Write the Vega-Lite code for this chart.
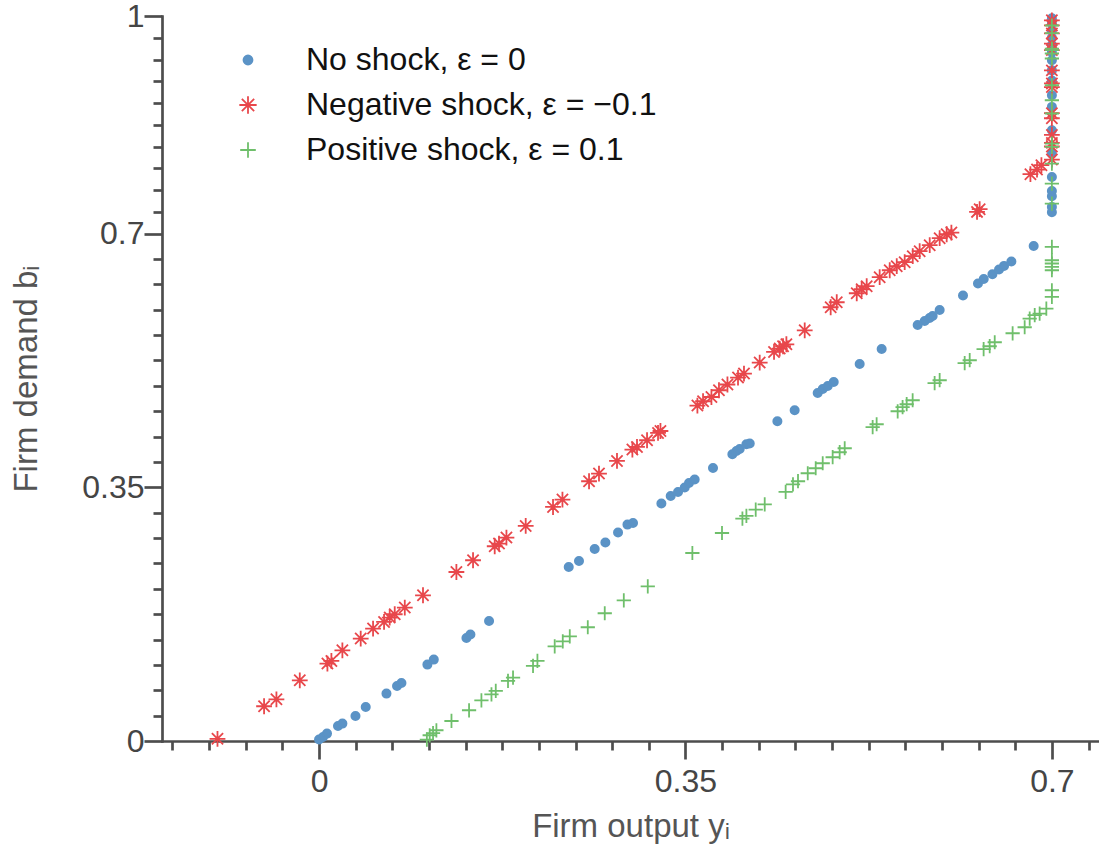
{
  "$schema": "https://vega.github.io/schema/vega-lite/v6.json",
  "width": 937,
  "height": 725,
  "autosize": {"type": "none"},
  "padding": {"left": 162, "top": 16, "right": 0, "bottom": 110},
  "background": "white",
  "config": {
    "view": {"stroke": null},
    "font": "Liberation Sans",
    "axis": {
      "domainColor": "#4d4d4d",
      "domainWidth": 2.7,
      "domainCap": "square",
      "tickColor": "#4d4d4d",
      "tickWidth": 2.7,
      "labelColor": "#454545",
      "labelFont": "Liberation Sans",
      "labelFontSize": 32,
      "titleFont": "Liberation Sans",
      "titleFontSize": 33,
      "titleFontWeight": "normal",
      "titleColor": "#555555",
      "grid": false,
      "labelOverlap": false,
      "labelBound": false
    }
  },
  "data": {"values": [
    {"s": "No shock, ε = 0", "x": 0.000, "y": 0.002},
    {"s": "No shock, ε = 0", "x": 0.0038, "y": 0.0055},
    {"s": "No shock, ε = 0", "x": 0.0076, "y": 0.0102},
    {"s": "No shock, ε = 0", "x": 0.0181, "y": 0.0207},
    {"s": "No shock, ε = 0", "x": 0.0223, "y": 0.024},
    {"s": "No shock, ε = 0", "x": 0.0348, "y": 0.0345},
    {"s": "No shock, ε = 0", "x": 0.0446, "y": 0.0469},
    {"s": "No shock, ε = 0", "x": 0.0644, "y": 0.0654},
    {"s": "No shock, ε = 0", "x": 0.0745, "y": 0.0759},
    {"s": "No shock, ε = 0", "x": 0.0787, "y": 0.080},
    {"s": "No shock, ε = 0", "x": 0.1035, "y": 0.1054},
    {"s": "No shock, ε = 0", "x": 0.1096, "y": 0.1123},
    {"s": "No shock, ε = 0", "x": 0.1408, "y": 0.1421},
    {"s": "No shock, ε = 0", "x": 0.1446, "y": 0.1468},
    {"s": "No shock, ε = 0", "x": 0.1624, "y": 0.1655},
    {"s": "No shock, ε = 0", "x": 0.2385, "y": 0.240},
    {"s": "No shock, ε = 0", "x": 0.2483, "y": 0.2483},
    {"s": "No shock, ε = 0", "x": 0.2633, "y": 0.2649},
    {"s": "No shock, ε = 0", "x": 0.2735, "y": 0.2737},
    {"s": "No shock, ε = 0", "x": 0.2856, "y": 0.2875},
    {"s": "No shock, ε = 0", "x": 0.2946, "y": 0.2985},
    {"s": "No shock, ε = 0", "x": 0.2999, "y": 0.3007},
    {"s": "No shock, ε = 0", "x": 0.3270, "y": 0.3275},
    {"s": "No shock, ε = 0", "x": 0.3359, "y": 0.338},
    {"s": "No shock, ε = 0", "x": 0.3429, "y": 0.3435},
    {"s": "No shock, ε = 0", "x": 0.3493, "y": 0.3496},
    {"s": "No shock, ε = 0", "x": 0.3534, "y": 0.3559},
    {"s": "No shock, ε = 0", "x": 0.3588, "y": 0.3606},
    {"s": "No shock, ε = 0", "x": 0.3763, "y": 0.3766},
    {"s": "No shock, ε = 0", "x": 0.3948, "y": 0.3955},
    {"s": "No shock, ε = 0", "x": 0.3987, "y": 0.400},
    {"s": "No shock, ε = 0", "x": 0.4018, "y": 0.4028},
    {"s": "No shock, ε = 0", "x": 0.4082, "y": 0.4093},
    {"s": "No shock, ε = 0", "x": 0.4114, "y": 0.4103},
    {"s": "No shock, ε = 0", "x": 0.4378, "y": 0.441},
    {"s": "No shock, ε = 0", "x": 0.4543, "y": 0.4562},
    {"s": "No shock, ε = 0", "x": 0.4763, "y": 0.4800},
    {"s": "No shock, ε = 0", "x": 0.4811, "y": 0.4855},
    {"s": "No shock, ε = 0", "x": 0.4859, "y": 0.4897},
    {"s": "No shock, ε = 0", "x": 0.4916, "y": 0.4952},
    {"s": "No shock, ε = 0", "x": 0.5164, "y": 0.5200},
    {"s": "No shock, ε = 0", "x": 0.5374, "y": 0.5407},
    {"s": "No shock, ε = 0", "x": 0.5718, "y": 0.5738},
    {"s": "No shock, ε = 0", "x": 0.5785, "y": 0.5793},
    {"s": "No shock, ε = 0", "x": 0.5832, "y": 0.5835},
    {"s": "No shock, ε = 0", "x": 0.5861, "y": 0.5862},
    {"s": "No shock, ε = 0", "x": 0.5928, "y": 0.5945},
    {"s": "No shock, ε = 0", "x": 0.6151, "y": 0.6144},
    {"s": "No shock, ε = 0", "x": 0.6294, "y": 0.631},
    {"s": "No shock, ε = 0", "x": 0.6349, "y": 0.6373},
    {"s": "No shock, ε = 0", "x": 0.6432, "y": 0.6438},
    {"s": "No shock, ε = 0", "x": 0.6495, "y": 0.6503},
    {"s": "No shock, ε = 0", "x": 0.6543, "y": 0.6553},
    {"s": "No shock, ε = 0", "x": 0.6613, "y": 0.6613},
    {"s": "No shock, ε = 0", "x": 0.6826, "y": 0.6828},
    {"s": "No shock, ε = 0", "x": 0.7, "y": 0.7293},
    {"s": "No shock, ε = 0", "x": 0.7, "y": 0.7367},
    {"s": "No shock, ε = 0", "x": 0.7, "y": 0.7514},
    {"s": "No shock, ε = 0", "x": 0.7, "y": 0.7587},
    {"s": "No shock, ε = 0", "x": 0.7, "y": 0.778},
    {"s": "No shock, ε = 0", "x": 0.7, "y": 0.81},
    {"s": "No shock, ε = 0", "x": 0.7, "y": 0.8425},
    {"s": "No shock, ε = 0", "x": 0.7, "y": 0.8746},
    {"s": "No shock, ε = 0", "x": 0.7, "y": 0.8907},
    {"s": "No shock, ε = 0", "x": 0.7, "y": 0.911},
    {"s": "No shock, ε = 0", "x": 0.7, "y": 0.925},
    {"s": "No shock, ε = 0", "x": 0.7, "y": 0.939},
    {"s": "No shock, ε = 0", "x": 0.7, "y": 0.95},
    {"s": "No shock, ε = 0", "x": 0.7, "y": 0.96},
    {"s": "No shock, ε = 0", "x": 0.7, "y": 0.97},
    {"s": "No shock, ε = 0", "x": 0.7, "y": 0.98},
    {"s": "No shock, ε = 0", "x": 0.7, "y": 0.99},
    {"s": "No shock, ε = 0", "x": 0.7, "y": 0.997},

    {"s": "Negative shock, ε = −0.1", "x": -0.097, "y": 0.003},
    {"s": "Negative shock, ε = −0.1", "x": -0.0525, "y": 0.0479},
    {"s": "Negative shock, ε = −0.1", "x": -0.0407, "y": 0.0575},
    {"s": "Negative shock, ε = −0.1", "x": -0.0184, "y": 0.0837},
    {"s": "Negative shock, ε = −0.1", "x": 0.0080, "y": 0.1068},
    {"s": "Negative shock, ε = −0.1", "x": 0.0118, "y": 0.1104},
    {"s": "Negative shock, ε = −0.1", "x": 0.0223, "y": 0.1251},
    {"s": "Negative shock, ε = −0.1", "x": 0.0398, "y": 0.1413},
    {"s": "Negative shock, ε = −0.1", "x": 0.0516, "y": 0.1551},
    {"s": "Negative shock, ε = −0.1", "x": 0.0621, "y": 0.1642},
    {"s": "Negative shock, ε = −0.1", "x": 0.0675, "y": 0.1702},
    {"s": "Negative shock, ε = −0.1", "x": 0.0723, "y": 0.1748},
    {"s": "Negative shock, ε = −0.1", "x": 0.0819, "y": 0.184},
    {"s": "Negative shock, ε = −0.1", "x": 0.0993, "y": 0.201},
    {"s": "Negative shock, ε = −0.1", "x": 0.1312, "y": 0.2331},
    {"s": "Negative shock, ε = −0.1", "x": 0.1471, "y": 0.2493},
    {"s": "Negative shock, ε = −0.1", "x": 0.1678, "y": 0.2686},
    {"s": "Negative shock, ε = −0.1", "x": 0.1719, "y": 0.2723},
    {"s": "Negative shock, ε = −0.1", "x": 0.179, "y": 0.2806},
    {"s": "Negative shock, ε = −0.1", "x": 0.1974, "y": 0.2966},
    {"s": "Negative shock, ε = −0.1", "x": 0.2235, "y": 0.3228},
    {"s": "Negative shock, ε = −0.1", "x": 0.2325, "y": 0.333},
    {"s": "Negative shock, ε = −0.1", "x": 0.2579, "y": 0.3583},
    {"s": "Negative shock, ε = −0.1", "x": 0.2674, "y": 0.3689},
    {"s": "Negative shock, ε = −0.1", "x": 0.2846, "y": 0.3863},
    {"s": "Negative shock, ε = −0.1", "x": 0.2993, "y": 0.402},
    {"s": "Negative shock, ε = −0.1", "x": 0.3037, "y": 0.4056},
    {"s": "Negative shock, ε = −0.1", "x": 0.3133, "y": 0.4148},
    {"s": "Negative shock, ε = −0.1", "x": 0.3238, "y": 0.4249},
    {"s": "Negative shock, ε = −0.1", "x": 0.3261, "y": 0.4276},
    {"s": "Negative shock, ε = −0.1", "x": 0.3614, "y": 0.4627},
    {"s": "Negative shock, ε = −0.1", "x": 0.3668, "y": 0.4686},
    {"s": "Negative shock, ε = −0.1", "x": 0.3748, "y": 0.4745},
    {"s": "Negative shock, ε = −0.1", "x": 0.3820, "y": 0.4838},
    {"s": "Negative shock, ε = −0.1", "x": 0.3901, "y": 0.4917},
    {"s": "Negative shock, ε = −0.1", "x": 0.4002, "y": 0.5013},
    {"s": "Negative shock, ε = −0.1", "x": 0.4059, "y": 0.5068},
    {"s": "Negative shock, ε = −0.1", "x": 0.4209, "y": 0.522},
    {"s": "Negative shock, ε = −0.1", "x": 0.4346, "y": 0.5366},
    {"s": "Negative shock, ε = −0.1", "x": 0.440, "y": 0.5413},
    {"s": "Negative shock, ε = −0.1", "x": 0.4432, "y": 0.5445},
    {"s": "Negative shock, ε = −0.1", "x": 0.4464, "y": 0.5472},
    {"s": "Negative shock, ε = −0.1", "x": 0.4639, "y": 0.5665},
    {"s": "Negative shock, ε = −0.1", "x": 0.4887, "y": 0.5983},
    {"s": "Negative shock, ε = −0.1", "x": 0.4945, "y": 0.6052},
    {"s": "Negative shock, ε = −0.1", "x": 0.5136, "y": 0.6176},
    {"s": "Negative shock, ε = −0.1", "x": 0.5183, "y": 0.6231},
    {"s": "Negative shock, ε = −0.1", "x": 0.5231, "y": 0.6273},
    {"s": "Negative shock, ε = −0.1", "x": 0.5355, "y": 0.6397},
    {"s": "Negative shock, ε = −0.1", "x": 0.5451, "y": 0.6493},
    {"s": "Negative shock, ε = −0.1", "x": 0.5518, "y": 0.6549},
    {"s": "Negative shock, ε = −0.1", "x": 0.5594, "y": 0.6604},
    {"s": "Negative shock, ε = −0.1", "x": 0.5671, "y": 0.6687},
    {"s": "Negative shock, ε = −0.1", "x": 0.5737, "y": 0.6756},
    {"s": "Negative shock, ε = −0.1", "x": 0.5833, "y": 0.6839},
    {"s": "Negative shock, ε = −0.1", "x": 0.5928, "y": 0.6935},
    {"s": "Negative shock, ε = −0.1", "x": 0.5995, "y": 0.699},
    {"s": "Negative shock, ε = −0.1", "x": 0.604, "y": 0.7013},
    {"s": "Negative shock, ε = −0.1", "x": 0.6285, "y": 0.7298},
    {"s": "Negative shock, ε = −0.1", "x": 0.631, "y": 0.7335},
    {"s": "Negative shock, ε = −0.1", "x": 0.6795, "y": 0.7818},
    {"s": "Negative shock, ε = −0.1", "x": 0.6858, "y": 0.7882},
    {"s": "Negative shock, ε = −0.1", "x": 0.69, "y": 0.7942},
    {"s": "Negative shock, ε = −0.1", "x": 0.7, "y": 0.802},
    {"s": "Negative shock, ε = −0.1", "x": 0.7, "y": 0.820},
    {"s": "Negative shock, ε = −0.1", "x": 0.7, "y": 0.825},
    {"s": "Negative shock, ε = −0.1", "x": 0.7, "y": 0.836},
    {"s": "Negative shock, ε = −0.1", "x": 0.7, "y": 0.859},
    {"s": "Negative shock, ε = −0.1", "x": 0.7, "y": 0.866},
    {"s": "Negative shock, ε = −0.1", "x": 0.7, "y": 0.902},
    {"s": "Negative shock, ε = −0.1", "x": 0.7, "y": 0.907},
    {"s": "Negative shock, ε = −0.1", "x": 0.7, "y": 0.925},
    {"s": "Negative shock, ε = −0.1", "x": 0.7, "y": 0.953},
    {"s": "Negative shock, ε = −0.1", "x": 0.7, "y": 0.962},
    {"s": "Negative shock, ε = −0.1", "x": 0.7, "y": 0.976},
    {"s": "Negative shock, ε = −0.1", "x": 0.7, "y": 0.987},
    {"s": "Negative shock, ε = −0.1", "x": 0.7, "y": 0.994},

    {"s": "Positive shock, ε = 0.1", "x": 0.103, "y": 0.002},
    {"s": "Positive shock, ε = 0.1", "x": 0.1057, "y": 0.0079},
    {"s": "Positive shock, ε = 0.1", "x": 0.1089, "y": 0.011},
    {"s": "Positive shock, ε = 0.1", "x": 0.1121, "y": 0.0148},
    {"s": "Positive shock, ε = 0.1", "x": 0.1265, "y": 0.0276},
    {"s": "Positive shock, ε = 0.1", "x": 0.1433, "y": 0.0424},
    {"s": "Positive shock, ε = 0.1", "x": 0.1551, "y": 0.0561},
    {"s": "Positive shock, ε = 0.1", "x": 0.1647, "y": 0.0644},
    {"s": "Positive shock, ε = 0.1", "x": 0.1688, "y": 0.069},
    {"s": "Positive shock, ε = 0.1", "x": 0.1805, "y": 0.0828},
    {"s": "Positive shock, ε = 0.1", "x": 0.1853, "y": 0.0875},
    {"s": "Positive shock, ε = 0.1", "x": 0.2044, "y": 0.1035},
    {"s": "Positive shock, ε = 0.1", "x": 0.2086, "y": 0.1104},
    {"s": "Positive shock, ε = 0.1", "x": 0.2251, "y": 0.1306},
    {"s": "Positive shock, ε = 0.1", "x": 0.2328, "y": 0.1375},
    {"s": "Positive shock, ε = 0.1", "x": 0.2395, "y": 0.1444},
    {"s": "Positive shock, ε = 0.1", "x": 0.2567, "y": 0.1569},
    {"s": "Positive shock, ε = 0.1", "x": 0.2729, "y": 0.1762},
    {"s": "Positive shock, ε = 0.1", "x": 0.2911, "y": 0.1941},
    {"s": "Positive shock, ε = 0.1", "x": 0.3140, "y": 0.2134},
    {"s": "Positive shock, ε = 0.1", "x": 0.3566, "y": 0.2593},
    {"s": "Positive shock, ε = 0.1", "x": 0.3849, "y": 0.2869},
    {"s": "Positive shock, ε = 0.1", "x": 0.4044, "y": 0.3068},
    {"s": "Positive shock, ε = 0.1", "x": 0.4082, "y": 0.3104},
    {"s": "Positive shock, ε = 0.1", "x": 0.4171, "y": 0.3192},
    {"s": "Positive shock, ε = 0.1", "x": 0.4257, "y": 0.3265},
    {"s": "Positive shock, ε = 0.1", "x": 0.4457, "y": 0.3435},
    {"s": "Positive shock, ε = 0.1", "x": 0.4527, "y": 0.3541},
    {"s": "Positive shock, ε = 0.1", "x": 0.4575, "y": 0.3583},
    {"s": "Positive shock, ε = 0.1", "x": 0.4668, "y": 0.3693},
    {"s": "Positive shock, ε = 0.1", "x": 0.4744, "y": 0.3762},
    {"s": "Positive shock, ε = 0.1", "x": 0.4811, "y": 0.3831},
    {"s": "Positive shock, ε = 0.1", "x": 0.4906, "y": 0.3914},
    {"s": "Positive shock, ε = 0.1", "x": 0.4973, "y": 0.3983},
    {"s": "Positive shock, ε = 0.1", "x": 0.5021, "y": 0.4038},
    {"s": "Positive shock, ε = 0.1", "x": 0.5288, "y": 0.4328},
    {"s": "Positive shock, ε = 0.1", "x": 0.5326, "y": 0.4369},
    {"s": "Positive shock, ε = 0.1", "x": 0.5527, "y": 0.4548},
    {"s": "Positive shock, ε = 0.1", "x": 0.5574, "y": 0.4604},
    {"s": "Positive shock, ε = 0.1", "x": 0.5613, "y": 0.4645},
    {"s": "Positive shock, ε = 0.1", "x": 0.567, "y": 0.4700},
    {"s": "Positive shock, ε = 0.1", "x": 0.588, "y": 0.4935},
    {"s": "Positive shock, ε = 0.1", "x": 0.5928, "y": 0.4976},
    {"s": "Positive shock, ε = 0.1", "x": 0.6167, "y": 0.5211},
    {"s": "Positive shock, ε = 0.1", "x": 0.6215, "y": 0.5252},
    {"s": "Positive shock, ε = 0.1", "x": 0.6348, "y": 0.5404},
    {"s": "Positive shock, ε = 0.1", "x": 0.6406, "y": 0.5445},
    {"s": "Positive shock, ε = 0.1", "x": 0.6454, "y": 0.55},
    {"s": "Positive shock, ε = 0.1", "x": 0.6625, "y": 0.5624},
    {"s": "Positive shock, ε = 0.1", "x": 0.674, "y": 0.5707},
    {"s": "Positive shock, ε = 0.1", "x": 0.6788, "y": 0.5827},
    {"s": "Positive shock, ε = 0.1", "x": 0.6836, "y": 0.5873},
    {"s": "Positive shock, ε = 0.1", "x": 0.6883, "y": 0.5896},
    {"s": "Positive shock, ε = 0.1", "x": 0.6947, "y": 0.5965},
    {"s": "Positive shock, ε = 0.1", "x": 0.7, "y": 0.6125},
    {"s": "Positive shock, ε = 0.1", "x": 0.7, "y": 0.6217},
    {"s": "Positive shock, ε = 0.1", "x": 0.7, "y": 0.6493},
    {"s": "Positive shock, ε = 0.1", "x": 0.7, "y": 0.6539},
    {"s": "Positive shock, ε = 0.1", "x": 0.7, "y": 0.6586},
    {"s": "Positive shock, ε = 0.1", "x": 0.7, "y": 0.6631},
    {"s": "Positive shock, ε = 0.1", "x": 0.7, "y": 0.6815},
    {"s": "Positive shock, ε = 0.1", "x": 0.7, "y": 0.7413},
    {"s": "Positive shock, ε = 0.1", "x": 0.7, "y": 0.7689},
    {"s": "Positive shock, ε = 0.1", "x": 0.7, "y": 0.7965},
    {"s": "Positive shock, ε = 0.1", "x": 0.7, "y": 0.8194},
    {"s": "Positive shock, ε = 0.1", "x": 0.7, "y": 0.8241},
    {"s": "Positive shock, ε = 0.1", "x": 0.7, "y": 0.8655},
    {"s": "Positive shock, ε = 0.1", "x": 0.7, "y": 0.8838},
    {"s": "Positive shock, ε = 0.1", "x": 0.7, "y": 0.9045},
    {"s": "Positive shock, ε = 0.1", "x": 0.7, "y": 0.9414},
    {"s": "Positive shock, ε = 0.1", "x": 0.7, "y": 0.9483},
    {"s": "Positive shock, ε = 0.1", "x": 0.7, "y": 0.9528},
    {"s": "Positive shock, ε = 0.1", "x": 0.7, "y": 0.9551},
    {"s": "Positive shock, ε = 0.1", "x": 0.7, "y": 0.9763},
    {"s": "Positive shock, ε = 0.1", "x": 0.7, "y": 0.9869}
  ]},
  "mark": {"type": "point", "strokeWidth": 1.8, "opacity": 1, "size": 250},
  "encoding": {
    "x": {
      "field": "x", "type": "quantitative",
      "scale": {"domain": [-0.15, 0.745], "nice": false, "zero": false},
      "axis": {
        "title": "Firm output yᵢ",
        "values": [-0.14, -0.105, -0.07, -0.035, 0, 0.035, 0.07, 0.105, 0.14, 0.175, 0.21, 0.245, 0.28, 0.315, 0.35, 0.385, 0.42, 0.455, 0.49, 0.525, 0.56, 0.595, 0.63, 0.665, 0.7, 0.735],
        "labelExpr": "datum.value == 0 ? '0' : datum.value == 0.35 ? '0.35' : datum.value == 0.7 ? '0.7' : ''",
        "tickSize": {"condition": {"test": "datum.value == 0 || datum.value == 0.35 || datum.value == 0.7", "value": 18}, "value": 9},
        "labelPadding": 7,
        "titlePadding": 13
      }
    },
    "y": {
      "field": "y", "type": "quantitative",
      "scale": {"domain": [0, 1], "nice": false, "zero": false},
      "axis": {
        "title": "Firm demand bᵢ",
        "values": [0, 0.035, 0.07, 0.105, 0.14, 0.175, 0.21, 0.245, 0.28, 0.315, 0.35, 0.385, 0.42, 0.455, 0.49, 0.525, 0.56, 0.595, 0.63, 0.665, 0.7, 0.73, 0.76, 0.79, 0.82, 0.85, 0.88, 0.91, 0.94, 0.97, 1],
        "labelExpr": "datum.value == 0 ? '0' : datum.value == 0.35 ? '0.35' : datum.value == 0.7 ? '0.7' : datum.value == 1 ? '1' : ''",
        "tickSize": {"condition": {"test": "datum.value == 0 || datum.value == 0.35 || datum.value == 0.7 || datum.value == 1", "value": 18}, "value": 9},
        "labelPadding": 0,
        "titlePadding": 38
      }
    },
    "shape": {
      "field": "s", "type": "nominal",
      "scale": {
        "domain": ["No shock, ε = 0", "Negative shock, ε = −0.1", "Positive shock, ε = 0.1"],
        "range": ["M0.52,0A0.52,0.52,0,1,1,-0.52,0A0.52,0.52,0,1,1,0.52,0Z", "M0,-1V1M-1,0H1M-0.71,-0.71L0.71,0.71M-0.71,0.71L0.71,-0.71", "M0,-0.9V0.9M-0.9,0H0.9"]
      },
      "legend": {
        "title": null,
        "orient": "none",
        "legendX": 70,
        "legendY": 28,
        "padding": 0,
        "labelFont": "Liberation Sans",
        "labelFontSize": 32,
        "labelColor": "#111111",
        "labelLimit": 800,
        "labelOffset": 42,
        "rowPadding": 13,
        "symbolSize": 300,
        "symbolStrokeWidth": 1.8
      }
    },
    "fill": {
      "field": "s", "type": "nominal",
      "scale": {
        "domain": ["No shock, ε = 0", "Negative shock, ε = −0.1", "Positive shock, ε = 0.1"],
        "range": ["#5b93c6", "#e8474b", "#6fbf6b"]
      },
      "legend": null
    },
    "stroke": {
      "field": "s", "type": "nominal",
      "scale": {
        "domain": ["No shock, ε = 0", "Negative shock, ε = −0.1", "Positive shock, ε = 0.1"],
        "range": ["#5b93c6", "#e8474b", "#6fbf6b"]
      },
      "legend": null
    }
  }
}
